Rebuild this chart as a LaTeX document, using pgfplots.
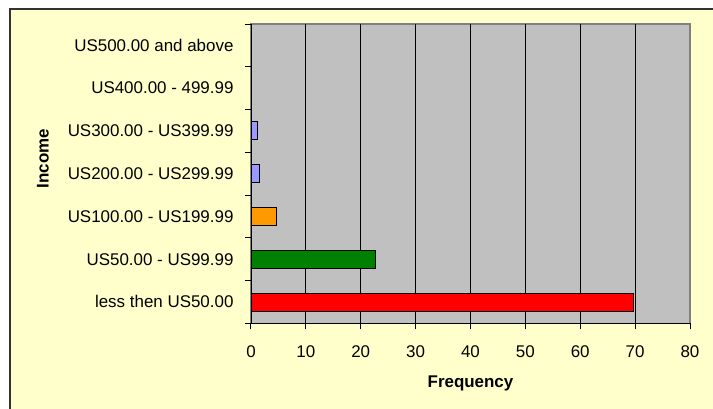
\documentclass[border=0pt]{standalone}
\usepackage{pgfplots}
\pgfplotsset{compat=1.18}
\usepackage{fontspec}
\setmainfont{Liberation Sans}
\definecolor{chartbg}{HTML}{FFFFCC}
\definecolor{plotbg}{HTML}{C0C0C0}
\definecolor{plotedge}{HTML}{808080}
\definecolor{barred}{HTML}{FF0000}
\definecolor{bargreen}{HTML}{008000}
\definecolor{barorange}{HTML}{FF9900}
\definecolor{barlilac}{HTML}{9999FF}
\begin{document}
\begin{tikzpicture}[x=1bp,y=1bp]
\path[use as bounding box] (-251,-84.7) rectangle (462,323.3);
\fill[white] (-251,-84.7) rectangle (462,323.3);
\filldraw[fill=chartbg, draw=black!80, line width=1.5bp] (-241,-100) rectangle (480,314.3);
\begin{axis}[
    scale only axis,
    width=439bp, height=299.3bp,
    font=\fontsize{17}{20}\selectfont,
    /pgf/number format/assume math mode=true,
    xbar, bar width=18bp,
    xmin=0, xmax=80, ymin=-0.5, ymax=6.5,
    xtick pos=bottom, ytick pos=left,
    axis line style={draw=none},
    axis background/.style={fill=plotbg, draw=plotedge, line width=1.5bp},
    xtick={0,10,...,80},
    ytick={0,...,6},
    yticklabels={less then US50.00, US50.00 - US99.99, US100.00 - US199.99,
        US200.00 - US299.99, US300.00 - US399.99, US400.00 - 499.99,
        US500.00 and above},
    minor ytick={-0.5,0.5,...,6.5},
    tick align=outside,
    major tick length=6bp, minor tick length=6bp,
    major y tick style={draw=none},
    tick style={black, line width=1bp},
    yticklabel style={xshift=-8bp},
    xticklabel style={yshift=-13bp},
    xmajorgrids,
    major x grid style={black, line width=0.8bp},
    xlabel={\bfseries Frequency},
    ylabel={\bfseries Income},
    xlabel style={at={(axis description cs:0.5,-0.202)}, anchor=center},
    ylabel style={at={(axis description cs:-0.474,0.55)}, anchor=center},
]
\addplot[bar shift=0pt, fill=barred, draw=black, line width=0.8bp] coordinates {(69.6,0)};
\addplot[bar shift=0pt, fill=bargreen, draw=black, line width=0.8bp] coordinates {(22.6,1)};
\addplot[bar shift=0pt, fill=barorange, draw=black, line width=0.8bp] coordinates {(4.7,2)};
\addplot[bar shift=0pt, fill=barlilac, draw=black, line width=0.8bp] coordinates {(1.6,3) (1.1,4)};
\end{axis}
\draw[plotedge, line width=1.5bp] (439,0) -- (439,299.3);
\draw[black, line width=1bp] (0,299.3) -- (0,0) -- (439,0);
\end{tikzpicture}
\end{document}
